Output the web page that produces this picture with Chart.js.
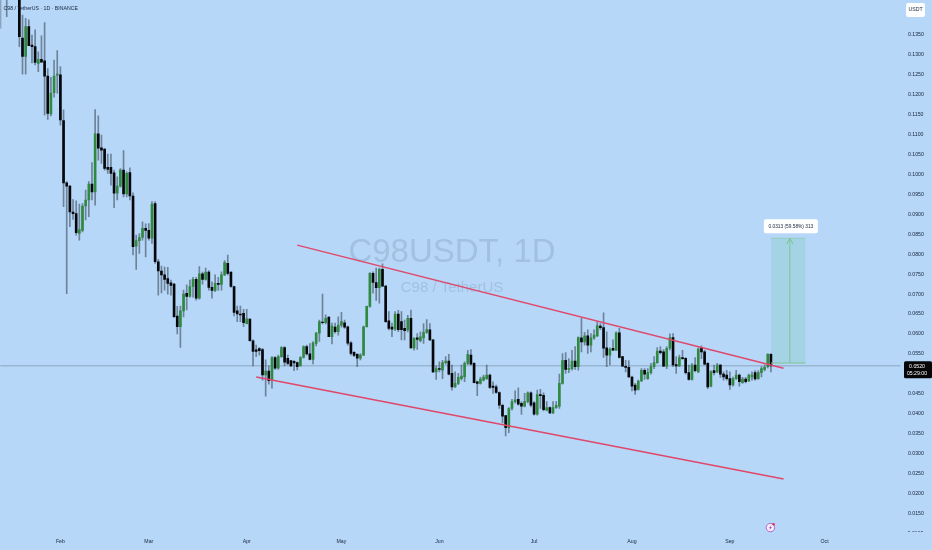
<!DOCTYPE html>
<html>
<head>
<meta charset="utf-8">
<style>
html,body{margin:0;padding:0;background:#b7d7f8;overflow:hidden}
canvas{display:block}
</style>
<script src="https://cdn.jsdelivr.net/npm/chart.js@4/dist/chart.umd.min.js"></script>
</head>
<body>
<canvas id="c" width="932" height="550"></canvas>
<script>
const opens = [
0.1500,0.1480,0.1510,0.1490,0.1520,0.1500,0.1490,0.1342,0.1296,0.1371,
0.1325,0.1321,0.1279,0.1289,0.1285,0.1247,0.1152,0.1205,0.1249,0.1250,
0.1135,0.0979,0.0971,0.0906,0.0902,0.0852,0.0860,0.0921,0.0936,0.0976,
0.0956,0.1102,0.1067,0.1064,0.1018,0.1018,0.1004,0.0953,0.0971,0.1011,
0.0951,0.1005,0.0946,0.0820,0.0834,0.0842,0.0865,0.0860,0.0840,0.0927,
0.0781,0.0758,0.0748,0.0739,0.0728,0.0725,0.0645,0.0618,0.0658,0.0702,
0.0694,0.0719,0.0737,0.0690,0.0751,0.0737,0.0755,0.0717,0.0709,0.0727,
0.0724,0.0748,0.0777,0.0755,0.0719,0.0658,0.0650,0.0652,0.0626,0.0637,
0.0583,0.0560,0.0563,0.0561,0.0497,0.0507,0.0484,0.0541,0.0514,0.0543,
0.0566,0.0539,0.0533,0.0531,0.0528,0.0520,0.0541,0.0568,0.0550,0.0536,
0.0576,0.0602,0.0630,0.0628,0.0642,0.0593,0.0617,0.0606,0.0622,0.0628,
0.0618,0.0578,0.0554,0.0549,0.0539,0.0547,0.0618,0.0669,0.0752,0.0729,
0.0716,0.0762,0.0720,0.0633,0.0617,0.0612,0.0650,0.0631,0.0614,0.0610,
0.0639,0.0565,0.0590,0.0583,0.0590,0.0604,0.0610,0.0585,0.0505,0.0513,
0.0509,0.0528,0.0532,0.0501,0.0467,0.0476,0.0488,0.0492,0.0526,0.0547,
0.0526,0.0480,0.0476,0.0484,0.0488,0.0497,0.0469,0.0467,0.0453,0.0421,
0.0395,0.0365,0.0413,0.0430,0.0436,0.0426,0.0419,0.0430,0.0452,0.0427,
0.0399,0.0448,0.0446,0.0409,0.0415,0.0402,0.0415,0.0419,0.0476,0.0534,
0.0511,0.0513,0.0532,0.0518,0.0590,0.0580,0.0595,0.0572,0.0590,0.0595,
0.0620,0.0616,0.0565,0.0547,0.0564,0.0559,0.0603,0.0543,0.0519,0.0516,
0.0492,0.0472,0.0461,0.0482,0.0509,0.0488,0.0503,0.0518,0.0528,0.0557,
0.0555,0.0519,0.0564,0.0591,0.0523,0.0520,0.0541,0.0539,0.0503,0.0486,
0.0522,0.0505,0.0566,0.0555,0.0526,0.0469,0.0508,0.0505,0.0522,0.0499,
0.0497,0.0488,0.0472,0.0488,0.0497,0.0478,0.0487,0.0482,0.0492,0.0503,
0.0488,0.0503,0.0511,0.0518,0.0549];
const closes = [
0.1480,0.1510,0.1490,0.1520,0.1500,0.1490,0.1346,0.1296,0.1371,0.1323,
0.1321,0.1281,0.1289,0.1282,0.1247,0.1153,0.1204,0.1247,0.1252,0.1137,
0.0979,0.0971,0.0906,0.0902,0.0854,0.0862,0.0921,0.0936,0.0976,0.0956,
0.1102,0.1066,0.1061,0.1015,0.1013,0.1003,0.0953,0.0971,0.1011,0.0951,
0.1003,0.0946,0.0819,0.0834,0.0842,0.0865,0.0860,0.0840,0.0926,0.0781,
0.0758,0.0748,0.0737,0.0727,0.0722,0.0643,0.0618,0.0658,0.0700,0.0694,
0.0719,0.0737,0.0690,0.0751,0.0737,0.0755,0.0717,0.0709,0.0727,0.0724,
0.0748,0.0779,0.0752,0.0719,0.0654,0.0650,0.0648,0.0628,0.0638,0.0583,
0.0556,0.0556,0.0558,0.0497,0.0507,0.0483,0.0541,0.0514,0.0543,0.0566,
0.0529,0.0526,0.0520,0.0527,0.0518,0.0541,0.0568,0.0550,0.0536,0.0578,
0.0602,0.0631,0.0628,0.0639,0.0593,0.0620,0.0606,0.0622,0.0631,0.0617,
0.0577,0.0551,0.0546,0.0539,0.0547,0.0618,0.0669,0.0752,0.0729,0.0716,
0.0762,0.0720,0.0631,0.0614,0.0612,0.0650,0.0611,0.0611,0.0608,0.0639,
0.0565,0.0589,0.0586,0.0593,0.0604,0.0611,0.0585,0.0505,0.0513,0.0511,
0.0528,0.0532,0.0499,0.0467,0.0476,0.0491,0.0494,0.0526,0.0549,0.0524,
0.0478,0.0476,0.0487,0.0492,0.0497,0.0466,0.0466,0.0453,0.0421,0.0394,
0.0365,0.0413,0.0430,0.0435,0.0424,0.0419,0.0430,0.0452,0.0421,0.0399,
0.0448,0.0445,0.0410,0.0415,0.0402,0.0415,0.0421,0.0476,0.0533,0.0511,
0.0514,0.0532,0.0518,0.0591,0.0580,0.0595,0.0572,0.0590,0.0597,0.0621,
0.0616,0.0564,0.0547,0.0562,0.0559,0.0603,0.0541,0.0519,0.0516,0.0492,
0.0469,0.0459,0.0482,0.0509,0.0499,0.0503,0.0518,0.0528,0.0557,0.0553,
0.0519,0.0564,0.0591,0.0522,0.0520,0.0541,0.0538,0.0503,0.0486,0.0522,
0.0508,0.0562,0.0555,0.0524,0.0467,0.0505,0.0503,0.0522,0.0499,0.0492,
0.0488,0.0472,0.0488,0.0497,0.0480,0.0487,0.0480,0.0497,0.0497,0.0487,
0.0503,0.0513,0.0516,0.0549,0.0520];
const highs = [
0.1530,0.1540,0.1550,0.1560,0.1570,0.1530,0.1500,0.1400,0.1392,0.1388,
0.1350,0.1363,0.1308,0.1348,0.1381,0.1266,0.1244,0.1287,0.1311,0.1271,
0.1162,0.0982,0.0973,0.0937,0.0934,0.0926,0.0927,0.0961,0.0982,0.1030,
0.1163,0.1147,0.1099,0.1065,0.1051,0.1051,0.1011,0.0994,0.1015,0.1060,
0.1007,0.1017,0.0954,0.0848,0.0852,0.0881,0.0876,0.0877,0.0932,0.0932,
0.0787,0.0770,0.0768,0.0767,0.0735,0.0727,0.0669,0.0670,0.0710,0.0723,
0.0735,0.0742,0.0742,0.0769,0.0755,0.0765,0.0759,0.0731,0.0748,0.0742,
0.0756,0.0784,0.0798,0.0756,0.0720,0.0670,0.0670,0.0662,0.0662,0.0638,
0.0585,0.0572,0.0566,0.0564,0.0535,0.0520,0.0543,0.0543,0.0547,0.0568,
0.0568,0.0547,0.0533,0.0533,0.0530,0.0543,0.0570,0.0572,0.0576,0.0581,
0.0604,0.0635,0.0700,0.0648,0.0643,0.0627,0.0627,0.0643,0.0654,0.0635,
0.0620,0.0581,0.0556,0.0551,0.0551,0.0620,0.0670,0.0754,0.0756,0.0765,
0.0765,0.0776,0.0722,0.0656,0.0627,0.0656,0.0659,0.0656,0.0635,0.0647,
0.0660,0.0591,0.0601,0.0605,0.0626,0.0636,0.0626,0.0586,0.0520,0.0530,
0.0534,0.0543,0.0549,0.0522,0.0505,0.0501,0.0522,0.0530,0.0559,0.0561,
0.0528,0.0482,0.0492,0.0497,0.0522,0.0499,0.0480,0.0472,0.0455,0.0424,
0.0396,0.0415,0.0436,0.0457,0.0465,0.0430,0.0451,0.0455,0.0455,0.0430,
0.0459,0.0461,0.0452,0.0430,0.0417,0.0430,0.0430,0.0499,0.0551,0.0553,
0.0538,0.0559,0.0568,0.0593,0.0639,0.0604,0.0610,0.0601,0.0610,0.0631,
0.0626,0.0653,0.0605,0.0565,0.0585,0.0605,0.0614,0.0544,0.0534,0.0533,
0.0494,0.0476,0.0484,0.0513,0.0513,0.0513,0.0526,0.0543,0.0566,0.0568,
0.0561,0.0568,0.0600,0.0601,0.0543,0.0547,0.0559,0.0541,0.0522,0.0526,
0.0541,0.0565,0.0570,0.0559,0.0528,0.0508,0.0522,0.0526,0.0524,0.0505,
0.0509,0.0505,0.0492,0.0509,0.0499,0.0491,0.0491,0.0499,0.0505,0.0508,
0.0508,0.0518,0.0522,0.0551,0.0551];
const lows = [
0.1367,0.1450,0.1396,0.1450,0.1445,0.1445,0.1321,0.1252,0.1252,0.1323,
0.1280,0.1275,0.1258,0.1282,0.1149,0.1138,0.1147,0.1194,0.1204,0.1124,
0.0919,0.0701,0.0869,0.0887,0.0848,0.0835,0.0856,0.0886,0.0894,0.0936,
0.0923,0.1036,0.1028,0.1011,0.1003,0.0973,0.0917,0.0936,0.0968,0.0944,
0.0944,0.0936,0.0798,0.0762,0.0802,0.0835,0.0793,0.0835,0.0827,0.0777,
0.0697,0.0703,0.0710,0.0700,0.0697,0.0680,0.0600,0.0566,0.0643,0.0660,
0.0692,0.0692,0.0685,0.0687,0.0725,0.0735,0.0710,0.0690,0.0706,0.0709,
0.0710,0.0746,0.0748,0.0717,0.0645,0.0631,0.0631,0.0618,0.0625,0.0582,
0.0520,0.0543,0.0547,0.0484,0.0444,0.0474,0.0464,0.0511,0.0511,0.0541,
0.0520,0.0522,0.0518,0.0508,0.0510,0.0520,0.0539,0.0547,0.0535,0.0525,
0.0570,0.0581,0.0625,0.0625,0.0593,0.0575,0.0602,0.0597,0.0617,0.0614,
0.0572,0.0547,0.0543,0.0518,0.0535,0.0546,0.0617,0.0667,0.0702,0.0684,
0.0677,0.0719,0.0629,0.0610,0.0593,0.0608,0.0606,0.0585,0.0585,0.0605,
0.0564,0.0559,0.0561,0.0580,0.0576,0.0601,0.0583,0.0503,0.0486,0.0505,
0.0488,0.0524,0.0497,0.0459,0.0466,0.0473,0.0484,0.0480,0.0523,0.0522,
0.0477,0.0445,0.0474,0.0482,0.0486,0.0463,0.0451,0.0451,0.0413,0.0377,
0.0344,0.0352,0.0409,0.0426,0.0421,0.0398,0.0417,0.0427,0.0417,0.0396,
0.0396,0.0413,0.0407,0.0407,0.0400,0.0400,0.0413,0.0413,0.0474,0.0501,
0.0503,0.0509,0.0511,0.0509,0.0555,0.0572,0.0551,0.0555,0.0586,0.0593,
0.0611,0.0541,0.0518,0.0522,0.0558,0.0558,0.0539,0.0518,0.0505,0.0491,
0.0457,0.0448,0.0459,0.0480,0.0486,0.0486,0.0499,0.0513,0.0526,0.0549,
0.0518,0.0513,0.0559,0.0518,0.0501,0.0518,0.0536,0.0499,0.0484,0.0484,
0.0505,0.0503,0.0538,0.0522,0.0463,0.0467,0.0497,0.0503,0.0491,0.0484,
0.0484,0.0461,0.0469,0.0486,0.0469,0.0476,0.0477,0.0480,0.0484,0.0484,
0.0486,0.0492,0.0507,0.0515,0.0505];

const priceTicks = [0.0150,0.0200,0.0250,0.0300,0.0350,0.0400,0.0450,0.0500,0.0550,0.0600,0.0650,0.0700,0.0750,0.0800,0.0850,0.0900,0.0950,0.1000,0.1050,0.1100,0.1150,0.1200,0.1250,0.1300,0.1350];
const monthNames = ['Jan','Feb','Mar','Apr','May','Jun','Jul','Aug','Sep','Oct','Nov','Dec'];
const upperChannel = [['2025-04-17',0.0823],['2025-09-18',0.0514]];
const lowerChannel = [['2025-04-04',0.0492],['2025-09-18',0.0236]];
const targetZone = {from:'2025-09-14',to:'2025-09-25',mid:'2025-09-20',midL:'2025-09-19',midR:'2025-09-21',base:0.0527,top:0.0840,headBase:0.0825};
const lastPrice = 0.0520;

// one category per calendar day shown on the time axis
const days = [];
for (let d = new Date(Date.UTC(2025,0,13)), n = 0; n < 286; n++, d.setUTCDate(d.getUTCDate()+1)) {
  days.push(d.toISOString().slice(0,10));
}
const UP = '#2f8a40', DOWN = '#05070a', WICK = 'rgba(50,62,75,0.55)';
const INK = '#16243a', FONT = '"Liberation Sans", Arial, sans-serif';
const TICK_SIZE = 5.2;
const seg = (pts)=>pts.map(([x,y])=>({x,y}));
const lineDs = (data,color,width,order,extra)=>Object.assign({type:'line',data,borderColor:color,borderWidth:width,pointRadius:0,tension:0,fill:false,order},extra||{});
const z = targetZone, GREEN = '#7cc58f';
const noPad = (s)=>{s.paddingTop=0;s.paddingBottom=0;s.paddingLeft=0;s.paddingRight=0;};

const overlay = {
  id:'overlay',
  beforeDatasetsDraw(chart){
    const c = chart.ctx;
    c.save();
    c.textAlign='center'; c.textBaseline='middle';
    c.fillStyle='rgba(96,124,152,0.24)';
    c.font='33px '+FONT; c.fillText('C98USDT, 1D',452,253);
    c.font='15px '+FONT; c.fillText('C98 / TetherUS',452,288);
    c.restore();
  },
  afterDraw(chart){
    const c = chart.ctx, ys = chart.scales.y, xs = chart.scales.x;
    c.save();
    // header
    c.font='5.2px '+FONT; c.fillStyle=INK; c.textAlign='left'; c.textBaseline='middle';
    c.fillText('C98 / TetherUS · 1D · BINANCE',3.5,9);
    // clipped bottom price label
    c.save();
    c.beginPath(); c.rect(900,0,32,532); c.clip();
    c.font=TICK_SIZE+'px '+FONT; c.fillStyle=INK; c.fillText((0.01).toFixed(4),907.6,ys.getPixelForValue(0.01));
    c.restore();
    // currency box
    c.fillStyle='#fff'; c.beginPath(); c.roundRect(906,3,19,14,2); c.fill();
    c.fillStyle=INK; c.textAlign='center'; c.fillText('USDT',915.5,10);
    // measure label
    const mx = xs.getPixelForValue(days.indexOf(z.mid))+1;
    const my = ys.getPixelForValue(z.top)-12;
    c.fillStyle='#fff'; c.beginPath(); c.roundRect(mx-27,my-7,54,14,2); c.fill();
    c.fillStyle=INK; c.font='4.8px '+FONT; c.fillText('0.0313 (59.58%) 313',mx,my);
    // last price tag
    const py = ys.getPixelForValue(lastPrice);
    c.fillStyle='#060606'; c.beginPath(); c.roundRect(904,py-4.5,28,17,1.5); c.fill();
    c.fillStyle='#fff'; c.font=TICK_SIZE+'px '+FONT; c.fillText(lastPrice.toFixed(4),917,py+0.5);
    c.fillText('05:29:00',917,py+7.5);
    // app badge
    c.beginPath(); c.arc(770.4,527.6,4.2,0,Math.PI*2); c.fillStyle='#f6effa'; c.fill();
    c.lineWidth=1; c.strokeStyle='#b165cc'; c.stroke();
    c.beginPath(); c.moveTo(771.6,524.6); c.lineTo(768.8,528.2); c.lineTo(770.4,528.2); c.lineTo(769.3,530.6); c.lineTo(772,527); c.lineTo(770.4,527); c.closePath();
    c.fillStyle='#a84ec4'; c.fill();
    c.beginPath(); c.arc(773.6,524.2,1.2,0,Math.PI*2); c.fillStyle='#e0324e'; c.fill();
    c.restore();
  }
};

new Chart(document.getElementById('c'),{
  type:'bar',
  plugins:[overlay],
  data:{
    labels:days,
    datasets:[
      lineDs(seg([[z.from,z.top],[z.to,z.top]]),'rgba(124,197,143,0.5)',1,9,{fill:{value:z.base},backgroundColor:'#a4d3e5'}),
      lineDs(seg([[days[0],lastPrice],[days[days.length-1],lastPrice]]),'#8ba6bf',1,8),
      {type:'bar',grouped:false,data:lows.map((l,i)=>[l,highs[i]]),backgroundColor:WICK,maxBarThickness:1,barPercentage:1,categoryPercentage:1,order:5},
      {type:'bar',grouped:false,data:opens.map((o,i)=>[o,closes[i]]),backgroundColor:opens.map((o,i)=>closes[i]>=o?UP:DOWN),maxBarThickness:2,barPercentage:1,categoryPercentage:1,order:4},
      lineDs(seg([[z.from,z.base],[z.to,z.base]]),GREEN,1,3),
      lineDs(seg([[z.mid,z.base],[z.mid,z.top]]),GREEN,1,3),
      lineDs(seg([[z.midL,z.headBase],[z.mid,z.top],[z.midR,z.headBase]]),GREEN,1,3),
      lineDs(seg(upperChannel),'#e0476a',1.4,2),
      lineDs(seg(lowerChannel),'#e0476a',1.4,2)
    ]
  },
  options:{
    responsive:false,animation:false,events:[],
    layout:{padding:{left:0.4}},
    plugins:{legend:{display:false},tooltip:{enabled:false},title:{display:false}},
    scales:{
      x:{
        type:'category',offset:false,
        grid:{display:false,drawTicks:false},border:{display:false},
        afterFit(s){s.height=18;noPad(s);},
        ticks:{autoSkip:false,maxRotation:0,minRotation:0,padding:6,color:INK,font:{family:FONT,size:TICK_SIZE},
          callback(v){const l=this.getLabelForValue(v);return l.endsWith('-01')?monthNames[+l.slice(5,7)-1]:'';}}
      },
      y:{
        type:'linear',position:'right',min:0.01031,max:0.14378,
        grid:{display:false,drawTicks:false},border:{display:false},
        afterFit(s){s.width=31.6;noPad(s);},
        afterBuildTicks(s){s.ticks=priceTicks.map(value=>({value}));},
        ticks:{autoSkip:false,padding:7.6,color:INK,font:{family:FONT,size:TICK_SIZE},callback:v=>v.toFixed(4)}
      }
    }
  }
});
</script>
</body>
</html>
